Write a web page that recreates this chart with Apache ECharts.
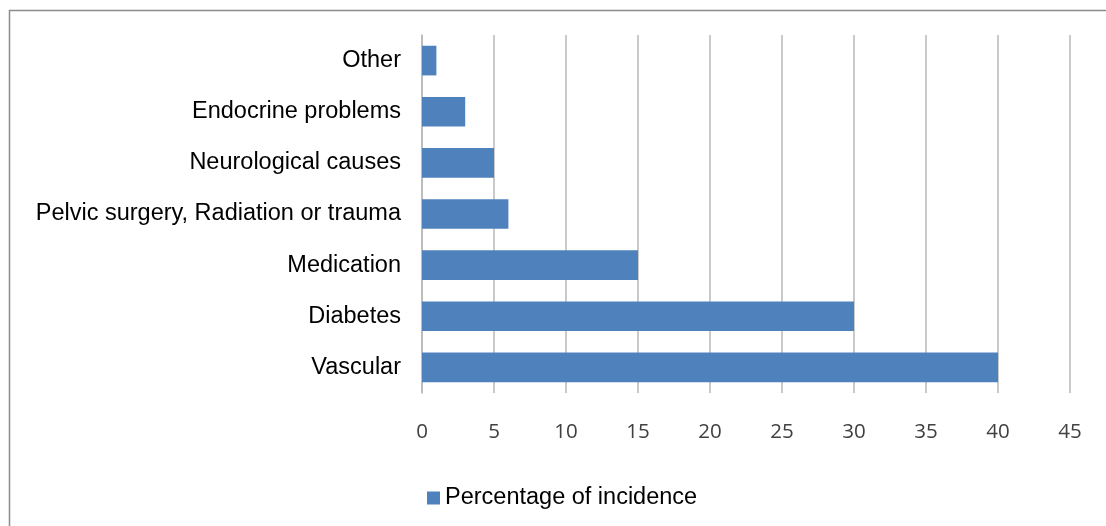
<!DOCTYPE html>
<html>
<head>
<meta charset="utf-8">
<style>html,body{margin:0;padding:0;background:#fff;}#c{width:1106px;height:526px;}</style>
<script src="https://cdn.jsdelivr.net/npm/echarts@6/dist/echarts.min.js"></script>
</head>
<body>
<div id="c"></div>
<script>
var categories = ["Vascular", "Diabetes", "Medication", "Pelvic surgery, Radiation or trauma", "Neurological causes", "Endocrine problems", "Other"];
var values = [40, 30, 15, 6, 5, 3, 1];
var seriesName = "Percentage of incidence";
var xMin = 0, xMax = 45, xStep = 5;

var chart = echarts.init(document.getElementById('c'));
chart.setOption({
  animation: false,
  backgroundColor: '#fff',
  graphic: [{
    type: 'rect', left: 7, top: 8, silent: true,
    shape: { width: 1098, height: 540 },
    style: { fill: 'none', stroke: '#8c8c8c', lineWidth: 1.5 }
  }],
  grid: { left: 422, right: 36, top: 35, bottom: 133, containLabel: false },
  legend: {
    data: [seriesName],
    left: 422, top: 481,
    icon: 'rect', itemWidth: 13, itemHeight: 13, itemGap: 5,
    textStyle: { fontFamily: 'Liberation Sans', fontSize: 23.5, color: '#000' }
  },
  xAxis: {
    type: 'value', min: xMin, max: xMax, interval: xStep,
    axisLine: { show: false },
    axisTick: { show: false },
    splitLine: { show: true, lineStyle: { color: '#b8b8b8', width: 1.5 } },
    axisLabel: { margin: 29, fontFamily: 'Open Sans', fontSize: 20.5, color: '#404040' }
  },
  yAxis: {
    type: 'category', data: categories,
    axisLine: { show: true, lineStyle: { color: '#b8b8b8', width: 1.5 } },
    axisTick: { show: false },
    axisLabel: { margin: 21, fontFamily: 'Liberation Sans', fontSize: 23.5, color: '#000' }
  },
  series: [{
    name: seriesName, type: 'bar', data: values,
    barCategoryGap: '42%',
    itemStyle: { color: '#4f81bd' }
  }]
});
</script>
</body>
</html>
